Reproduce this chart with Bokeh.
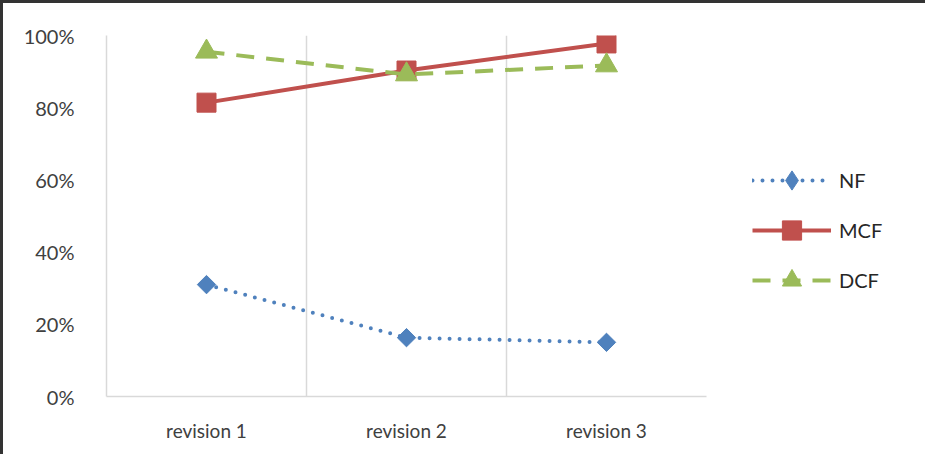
from bokeh.plotting import figure
from bokeh.models import (FixedTicker, NumeralTickFormatter, Legend, LegendItem,
                          Range1d, ColumnDataSource)
from bokeh.embed import file_html
from bokeh.resources import INLINE
import math

categories = ["revision 1", "revision 2", "revision 3"]
nf = [0.31, 0.163, 0.15]
mcf = [0.814, 0.903, 0.978]
dcf = [0.955, 0.892, 0.917]
y_ticks = [0, 0.2, 0.4, 0.6, 0.8, 1.0]

xpos = [i + 0.5 for i in range(len(categories))]

FONT = "Lato"
p = figure(width=914, height=451, output_backend="svg", toolbar_location=None,
           x_range=Range1d(0, 3), y_range=Range1d(0, 1),
           frame_width=600, frame_height=361,
           min_border_left=103, min_border_right=211, min_border_top=32, min_border_bottom=58)
p.outline_line_color = None
p.background_fill_color = "white"
p.border_fill_color = "white"
p.styles = {"border-top": "3px solid #333333", "border-left": "3px solid #333333",
            "box-shadow": "6px 0 0 0 #333333"}

# axes
p.xaxis.ticker = FixedTicker(ticks=xpos)
p.xaxis.major_label_overrides = {x: c for x, c in zip(xpos, categories)}
p.xaxis.major_tick_line_color = None
p.xaxis.minor_tick_line_color = None
p.xaxis.axis_line_color = "#D9D9D9"
p.xaxis.axis_line_width = 1.5
p.xaxis.major_label_text_font = FONT
p.xaxis.major_label_text_font_size = "19px"
p.xaxis.major_label_text_color = "#404040"
p.xaxis.major_label_standoff = 16

p.yaxis.ticker = FixedTicker(ticks=y_ticks)
p.yaxis.formatter = NumeralTickFormatter(format="0%")
p.yaxis.major_tick_line_color = None
p.yaxis.minor_tick_line_color = None
p.yaxis.axis_line_color = "#D9D9D9"
p.yaxis.axis_line_width = 1.5
p.yaxis.major_label_text_font = FONT
p.yaxis.major_label_text_font_size = "20px"
p.yaxis.major_label_text_color = "#404040"
p.yaxis.major_label_standoff = 26

p.ygrid.grid_line_color = None
p.xgrid.ticker = FixedTicker(ticks=[1, 2])
p.xgrid.grid_line_color = "#D9D9D9"
p.xgrid.grid_line_width = 1.5

src = ColumnDataSource(dict(x=xpos, nf=nf, mcf=mcf, dcf=dcf))

l_nf = p.line("x", "nf", source=src, line_color="#4F81BD", line_width=4,
              line_dash="0 10", line_cap="round")
# diamond key for the legend (hidden beneath the rotated-square markers)
k_nf = p.scatter("x", "nf", source=src, marker="diamond", size=17,
                 fill_color="#4F81BD", line_color="#4F81BD")
m_nf = p.scatter("x", "nf", source=src, marker="square", size=13, angle=math.pi / 4,
                 fill_color="#4F81BD", line_color="#4F81BD")
l_mcf = p.line("x", "mcf", source=src, line_color="#C0504D", line_width=4)
m_mcf = p.scatter("x", "mcf", source=src, marker="square", size=19,
                  fill_color="#C0504D", line_color="#C0504D")
l_dcf = p.line("x", "dcf", source=src, line_color="#9BBB59", line_width=4,
               line_dash="18 12")
m_dcf = p.scatter("x", "dcf", source=src, marker="triangle", size=22,
                  fill_color="#9BBB59", line_color="#9BBB59")

legend = Legend(items=[
    LegendItem(label="NF", renderers=[l_nf, k_nf]),
    LegendItem(label="MCF", renderers=[l_mcf, m_mcf]),
    LegendItem(label="DCF", renderers=[l_dcf, m_dcf]),
], location=(46, 92))
legend.border_line_color = None
legend.background_fill_alpha = 0
legend.padding = 0
legend.margin = 0
legend.spacing = 2
legend.glyph_width = 79
legend.glyph_height = 48
legend.label_height = 24
legend.label_standoff = 8
legend.label_text_font = FONT
legend.label_text_font_size = "20px"
legend.label_text_color = "#262626"
p.add_layout(legend, "right")

open("out.html", "w").write(file_html(p, INLINE))
